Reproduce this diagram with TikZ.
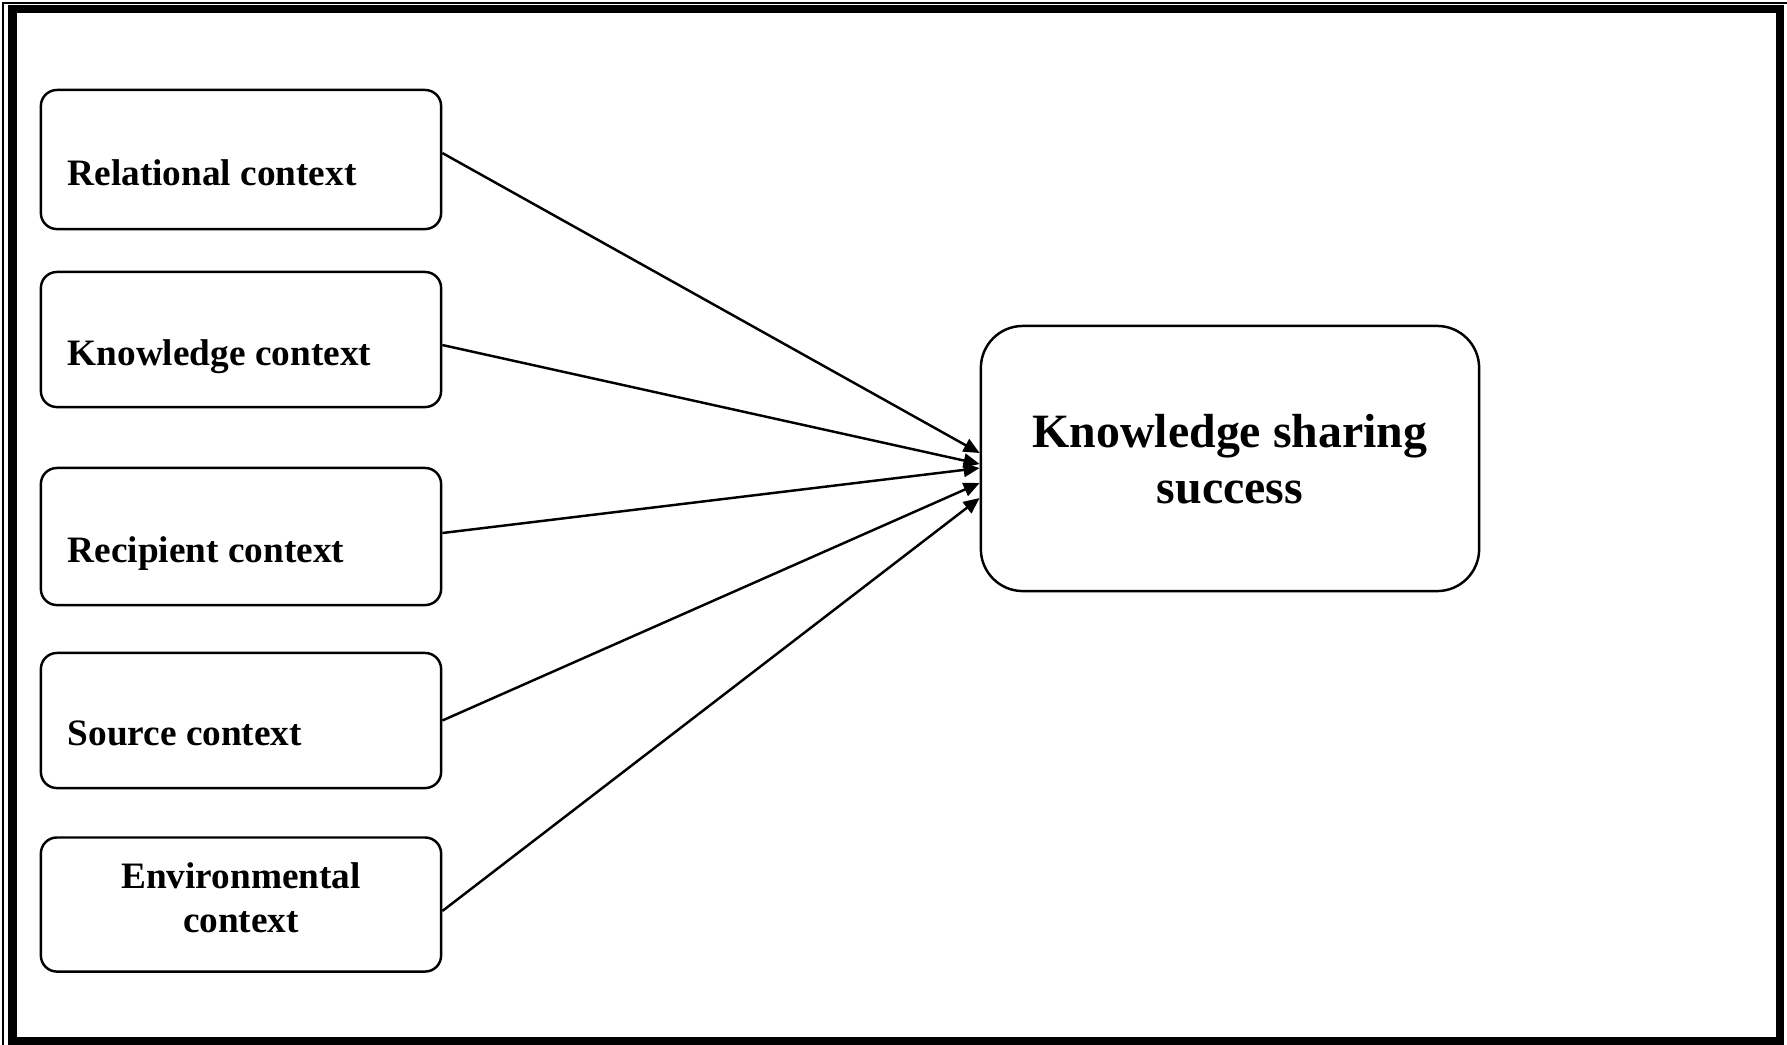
\documentclass[tikz,border=0pt]{standalone}
\usepackage{fontspec}
\setmainfont{Liberation Serif}
\usetikzlibrary{arrows.meta,calc}
\tikzset{
  ctxbox/.style={draw=black, line width=0.7pt, rounded corners=0.16cm, minimum width=4cm, inner sep=0pt},
  bigbox/.style={draw=black, line width=0.7pt, rounded corners=0.42cm, minimum width=4.98cm, minimum height=2.65cm, inner sep=0pt},
  lbl/.style={inner sep=0pt, font=\bfseries\fontsize{10.6}{12.5}\selectfont},
  biglbl/.style={inner sep=0pt, align=center, font=\bfseries\fontsize{13.6}{15.65}\selectfont},
  link/.style={line width=0.7pt, -{Triangle[length=0.16cm, width=0.14cm]}}
}
\begin{document}
\begin{tikzpicture}[x=0.01cm, y=-0.01cm]
\useasboundingbox (0,0) rectangle (1787,1044);
% frame
\draw[line width=0.4pt] (3,3) rectangle (1800,1060);
\draw[line width=2.5pt] (12.5,9) rectangle (1780,1041);
% boxes
\node[ctxbox, minimum height=1.39cm] (rel) at (241,159.5) {};
\node[ctxbox, minimum height=1.35cm] (know) at (241,339.5) {};
\node[ctxbox, minimum height=1.37cm] (rec) at (241,536.5) {};
\node[ctxbox, minimum height=1.35cm] (src) at (241,720.5) {};
\node[ctxbox, minimum height=1.34cm] (env) at (241,904.5) {};
\node[bigbox] (ks) at (1230,458.5) {};
% labels
\node[lbl, anchor=base west] (trel) at (67,185) {Relational context};
\node[lbl, anchor=base west] (tknow) at (67,365) {Knowledge context};
\node[lbl, anchor=base west] (trec) at (67,562) {Recipient context};
\node[lbl, anchor=base west] (tsrc) at (67,745) {Source context};
\node[lbl, align=center, anchor=base] (tenv) at (241,932) {Environmental\\context};
\node[biglbl, anchor=base] (tks) at (1230,503) {Knowledge sharing\\success};
% connectors
\draw[link] ($(rel.east)+(0,-6.5)$) -- ($(ks.west)+(0,-5.5)$);
\draw[link] ($(know.east)+(0,5.5)$) -- ($(ks.west)+(0,5.5)$);
\draw[link] ($(rec.east)+(0,-3.5)$) -- ($(ks.west)+(0,9.5)$);
\draw[link] (src.east) -- ($(ks.west)+(0,24.5)$);
\draw[link] ($(env.east)+(0,6.5)$) -- ($(ks.west)+(0,39.5)$);
\end{tikzpicture}
\end{document}
